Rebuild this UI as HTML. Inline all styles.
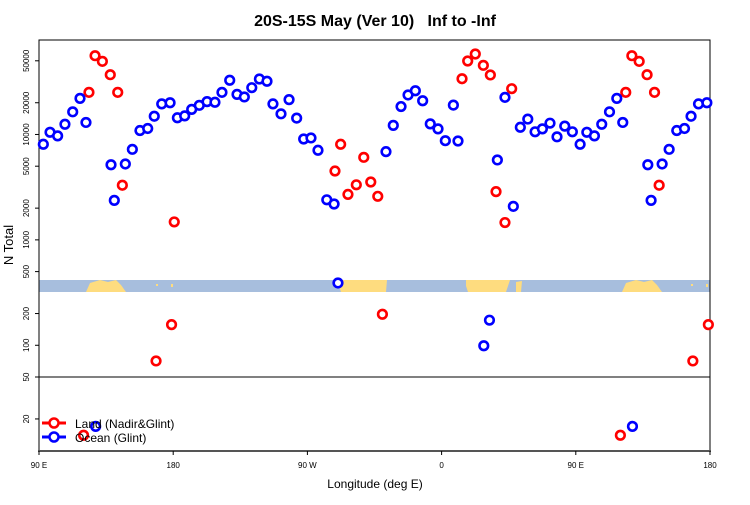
<!DOCTYPE html>
<html><head><meta charset="utf-8"><style>
body{margin:0;background:#fff;}
svg text{font-family:"Liberation Sans",sans-serif;}
</style></head><body>
<svg id="chart" width="750" height="500" viewBox="0 0 750 500" xmlns="http://www.w3.org/2000/svg">
<text x="375" y="26" text-anchor="middle" font-size="16" font-weight="bold" style="white-space:pre">20S-15S May (Ver 10)   Inf to -Inf</text>
<text transform="translate(13,245) rotate(-90)" text-anchor="middle" font-size="13">N Total</text>
<text x="375" y="488" text-anchor="middle" font-size="12">Longitude (deg E)</text>
<g id="map">
<rect x="39" y="280" width="671" height="12" fill="#a7bedd"/>
<polygon points="86,292 90,283 100,280 108,282 116,280 121,285 126,292" fill="#fedc7f"/>
<polygon points="337,280 387,280 386,292 341,292" fill="#fedc7f"/>
<polygon points="466,280 510,280 506,292 468,292 466,286" fill="#fedc7f"/>
<polygon points="516,282 522,281 521,292 516,292" fill="#fedc7f"/>
<polygon points="622,292 626,283 636,280 644,282 652,280 657,285 662,292" fill="#fedc7f"/>
<rect x="156" y="284" width="2" height="2" fill="#fedc7f"/>
<rect x="171" y="284" width="2" height="3" fill="#fedc7f"/>
<rect x="691" y="284" width="2" height="2" fill="#fedc7f"/>
<rect x="706" y="284" width="2" height="3" fill="#fedc7f"/>
</g>
<line x1="39" y1="377" x2="710" y2="377" stroke="#000" stroke-width="1"/>
<rect x="39" y="40" width="671" height="411" fill="none" stroke="#000" stroke-width="1"/>
<line x1="38" y1="451" x2="711" y2="451" stroke="#555" stroke-width="2"/>
<g id="axes"></g>
<g id="marks"></g>
<g>
<line x1="42" y1="423" x2="66" y2="423" stroke="#f00" stroke-width="3"/>
<circle cx="54" cy="423" r="4.5" fill="#fff" stroke="#f00" stroke-width="2.5"/>
<text x="75" y="428" font-size="12">Land (Nadir&amp;Glint)</text>
<line x1="42" y1="437" x2="66" y2="437" stroke="#00f" stroke-width="3"/>
<circle cx="54" cy="437" r="4.5" fill="#fff" stroke="#00f" stroke-width="2.5"/>
<text x="75" y="442" font-size="12">Ocean (Glint)</text>
</g>
</svg>
<script>
const yTicks = [50000,20000,10000,5000,2000,1000,500,200,100,50,20];
const xTickPos = [90,180,270,360,450,540];
const xTickLabels = ["90 E","180","90 W","0","90 E","180"];
const oceanLon = [92.9,97.4,102.5,107.4,112.6,117.5,121.5,128,138.3,140.5,147.9,152.6,157.7,162.9,167.3,172.3,177.9,-177.2,-172.3,-167.6,-162.5,-157.3,-152,-147.3,-142.1,-137.2,-132.3,-127.3,-122.2,-117.1,-113.1,-107.7,-102.3,-97.2,-92.5,-87.6,-82.9,-77,-72.1,-69.5,-37.3,-32.4,-27.2,-22.5,-17.6,-12.7,-7.6,-2.4,2.5,7.9,11,28.3,32.1,37.4,42.5,48.1,52.8,57.8,62.7,67.6,72.7,77.4,82.6,87.7];
const oceanVal = [8070,10500,9700,12500,16400,22000,13000,17,5160,2370,5250,7230,10900,11400,14900,19500,20000,14400,15000,17300,18900,20500,20200,25100,32700,24000,22700,27800,33600,32000,19500,15700,21400,14300,9060,9270,7080,2400,2190,390,6870,12200,18400,23700,26000,20900,12600,11300,8730,19000,8670,99,173,5730,22500,2080,11700,14000,10600,11300,12800,9500,12000,10600];
const landLon = [119.9,123.5,127.6,132.5,137.8,142.8,145.9,168.5,178.9,-179.3,-71.5,-67.7,-62.8,-57.2,-52.2,-47.5,-42.8,-39.7,13.7,17.5,22.6,28,32.7,36.5,42.5,47];
const landVal = [14,25100,55900,49400,36900,25100,3300,71,157,1480,4500,8070,2700,3330,6070,3540,2590,197,33800,49800,58000,45300,36700,2870,1460,27200];

const NS='http://www.w3.org/2000/svg';
function xScale(c){return 39+(c-90)*1.4911;}
function yScale(v){return 377-105.4*Math.log10(v/50);}
function positions(lon){
  let L = lon<0 ? lon+360 : lon;
  let c = L<90 ? L+360 : L;
  const out=[c];
  if(c>=90 && c<=180) out.push(c+360);
  return out;
}
const axes=document.getElementById('axes');
yTicks.forEach(t=>{
  const y=yScale(t);
  const l=document.createElementNS(NS,'line');
  l.setAttribute('x1',35);l.setAttribute('x2',39);l.setAttribute('y1',y);l.setAttribute('y2',y);l.setAttribute('stroke','#000');
  
  
  axes.appendChild(l);
  const tx=document.createElementNS(NS,'text');
  tx.setAttribute('transform','translate(29,'+y+') rotate(-90)');
  tx.setAttribute('text-anchor','middle');tx.setAttribute('font-size','8');
  tx.textContent=t;
  
  
  axes.appendChild(tx);
});
xTickPos.forEach((p,i)=>{
  const x=xScale(p);
  const l=document.createElementNS(NS,'line');
  l.setAttribute('x1',x);l.setAttribute('x2',x);l.setAttribute('y1',451);l.setAttribute('y2',455);l.setAttribute('stroke','#000');
  
  
  axes.appendChild(l);
  const tx=document.createElementNS(NS,'text');
  tx.setAttribute('x',x);tx.setAttribute('y',468);
  tx.setAttribute('text-anchor','middle');tx.setAttribute('font-size','8');
  tx.textContent=xTickLabels[i];
  
  
  axes.appendChild(tx);
});
const marks=document.getElementById('marks');
function drawSeries(lons,vals,color,name){
  lons.forEach((lo,i)=>{
    positions(lo).forEach(c=>{
      const ci=document.createElementNS(NS,'circle');
      ci.setAttribute('cx',xScale(c));ci.setAttribute('cy',yScale(vals[i]));
      ci.setAttribute('r',4.3);ci.setAttribute('fill','#fff');
      ci.setAttribute('stroke',color);ci.setAttribute('stroke-width',2.6);
      
      
      marks.appendChild(ci);
    });
  });
}
drawSeries(landLon,landVal,'#f00','land-point');
drawSeries(oceanLon,oceanVal,'#00f','ocean-point');
</script>
</body></html>
